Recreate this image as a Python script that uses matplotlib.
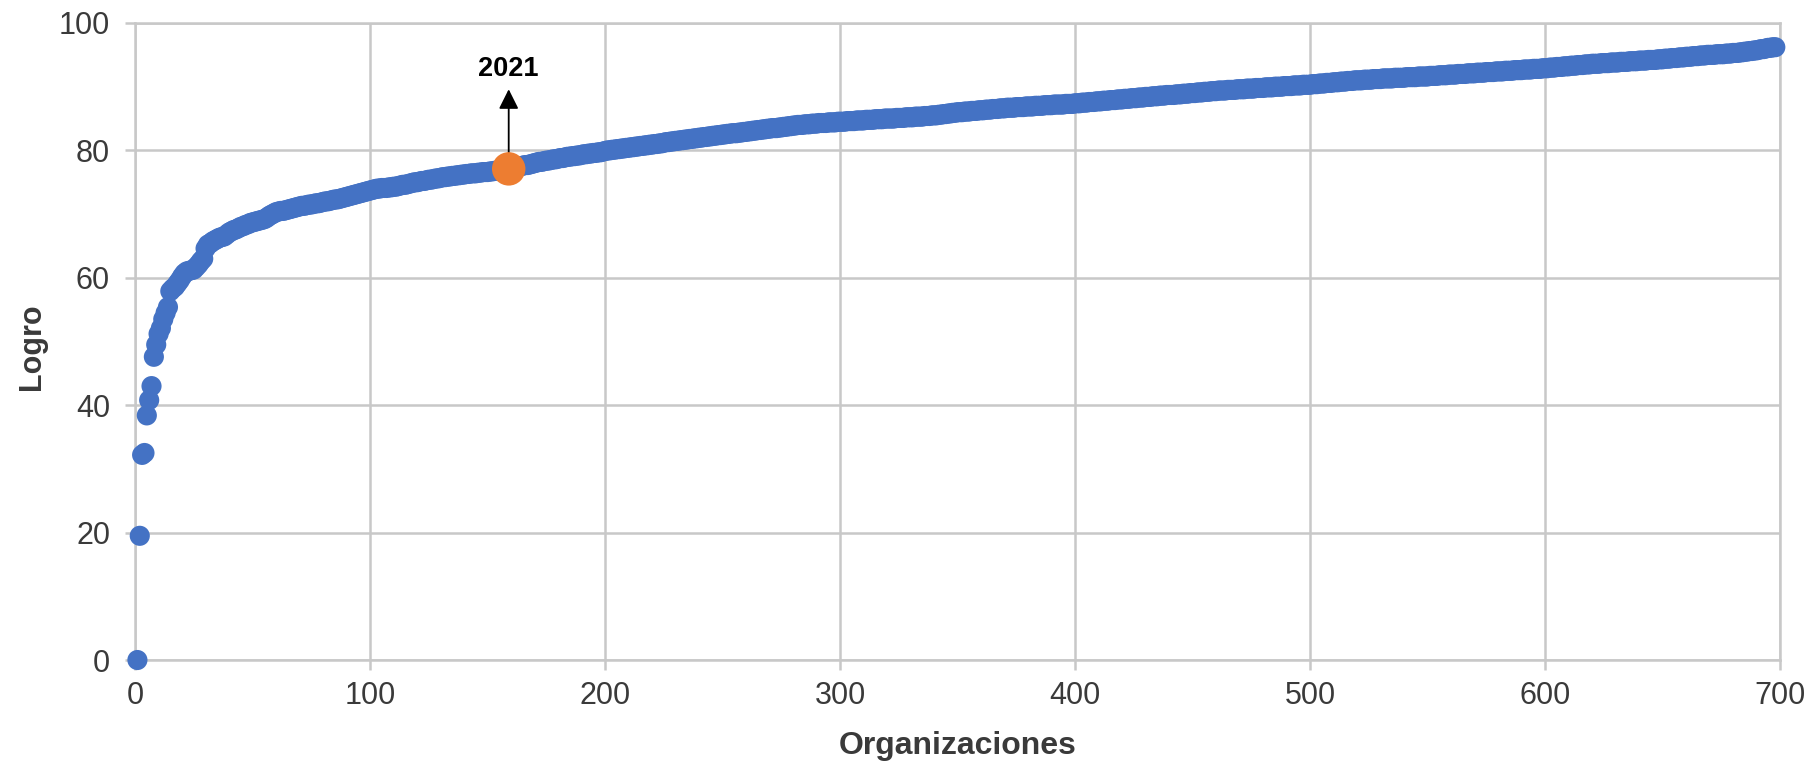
import matplotlib
matplotlib.use("Agg")
import matplotlib.pyplot as plt
import numpy as np

plt.rcParams['font.family'] = ['Liberation Sans', 'DejaVu Sans']

# logro de cada organización, ordenado de menor a mayor
logro = [
    0.0, 19.5, 32.2, 32.5, 38.4, 40.8, 43.0, 47.6, 49.5, 51.2,
    52.1, 53.5, 54.5, 55.4, 57.9, 58.3, 58.6, 59.1, 59.6, 60.2,
    60.7, 61.0, 61.1, 61.2, 61.3, 61.7, 62.1, 62.6, 63.0, 64.6,
    65.2, 65.4, 65.7, 65.9, 66.1, 66.3, 66.4, 66.5, 66.8, 67.1,
    67.3, 67.5, 67.6, 67.8, 68.0, 68.1, 68.3, 68.4, 68.6, 68.7,
    68.8, 68.9, 69.0, 69.1, 69.2, 69.4, 69.7, 69.9, 70.1, 70.3,
    70.4, 70.5, 70.5, 70.6, 70.7, 70.8, 70.9, 71.0, 71.1, 71.2,
    71.3, 71.3, 71.4, 71.5, 71.5, 71.6, 71.7, 71.7, 71.8, 71.9,
    72.0, 72.0, 72.1, 72.2, 72.3, 72.3, 72.4, 72.5, 72.6, 72.7,
    72.8, 72.9, 73.0, 73.1, 73.2, 73.3, 73.4, 73.5, 73.6, 73.7,
    73.8, 73.9, 74.0, 74.0, 74.1, 74.1, 74.1, 74.2, 74.2, 74.3,
    74.3, 74.4, 74.5, 74.6, 74.6, 74.7, 74.8, 74.9, 75.0, 75.0,
    75.1, 75.2, 75.2, 75.3, 75.4, 75.4, 75.5, 75.6, 75.6, 75.7,
    75.8, 75.8, 75.9, 75.9, 76.0, 76.0, 76.1, 76.1, 76.2, 76.2,
    76.3, 76.3, 76.4, 76.4, 76.4, 76.5, 76.5, 76.6, 76.6, 76.6,
    76.7, 76.7, 76.8, 76.8, 76.9, 76.9, 77.0, 77.0, 77.1, 77.2,
    77.3, 77.3, 77.4, 77.5, 77.6, 77.7, 77.7, 77.8, 77.9, 78.0,
    78.1, 78.2, 78.2, 78.3, 78.4, 78.4, 78.5, 78.6, 78.6, 78.7,
    78.8, 78.8, 78.9, 79.0, 79.0, 79.1, 79.1, 79.2, 79.2, 79.3,
    79.4, 79.4, 79.5, 79.5, 79.6, 79.6, 79.7, 79.7, 79.8, 79.9,
    80.0, 80.0, 80.1, 80.1, 80.2, 80.2, 80.3, 80.3, 80.4, 80.4,
    80.5, 80.5, 80.6, 80.6, 80.7, 80.7, 80.8, 80.8, 80.9, 80.9,
    81.0, 81.0, 81.1, 81.1, 81.2, 81.3, 81.3, 81.4, 81.4, 81.5,
    81.5, 81.6, 81.6, 81.7, 81.7, 81.8, 81.8, 81.9, 81.9, 82.0,
    82.0, 82.1, 82.1, 82.2, 82.2, 82.3, 82.3, 82.4, 82.4, 82.5,
    82.5, 82.6, 82.6, 82.7, 82.7, 82.7, 82.8, 82.8, 82.9, 82.9,
    83.0, 83.0, 83.1, 83.1, 83.2, 83.2, 83.3, 83.3, 83.4, 83.4,
    83.5, 83.5, 83.5, 83.6, 83.6, 83.7, 83.7, 83.8, 83.8, 83.9,
    83.9, 84.0, 84.0, 84.0, 84.1, 84.1, 84.1, 84.2, 84.2, 84.2,
    84.3, 84.3, 84.3, 84.3, 84.4, 84.4, 84.4, 84.4, 84.5, 84.5,
    84.5, 84.5, 84.6, 84.6, 84.6, 84.6, 84.7, 84.7, 84.7, 84.7,
    84.8, 84.8, 84.8, 84.8, 84.9, 84.9, 84.9, 84.9, 85.0, 85.0,
    85.0, 85.0, 85.0, 85.1, 85.1, 85.1, 85.1, 85.2, 85.2, 85.2,
    85.2, 85.3, 85.3, 85.3, 85.3, 85.4, 85.4, 85.4, 85.5, 85.5,
    85.5, 85.6, 85.6, 85.7, 85.7, 85.8, 85.8, 85.9, 85.9, 86.0,
    86.0, 86.0, 86.1, 86.1, 86.1, 86.2, 86.2, 86.2, 86.3, 86.3,
    86.3, 86.4, 86.4, 86.4, 86.5, 86.5, 86.5, 86.6, 86.6, 86.6,
    86.7, 86.7, 86.7, 86.7, 86.8, 86.8, 86.8, 86.8, 86.9, 86.9,
    86.9, 86.9, 87.0, 87.0, 87.0, 87.0, 87.1, 87.1, 87.1, 87.1,
    87.2, 87.2, 87.2, 87.2, 87.2, 87.3, 87.3, 87.3, 87.3, 87.4,
    87.4, 87.4, 87.5, 87.5, 87.5, 87.6, 87.6, 87.6, 87.7, 87.7,
    87.7, 87.8, 87.8, 87.8, 87.9, 87.9, 87.9, 88.0, 88.0, 88.0,
    88.1, 88.1, 88.1, 88.2, 88.2, 88.2, 88.3, 88.3, 88.3, 88.4,
    88.4, 88.4, 88.5, 88.5, 88.5, 88.6, 88.6, 88.6, 88.7, 88.7,
    88.7, 88.7, 88.8, 88.8, 88.8, 88.9, 88.9, 88.9, 89.0, 89.0,
    89.0, 89.1, 89.1, 89.1, 89.2, 89.2, 89.2, 89.3, 89.3, 89.3,
    89.4, 89.4, 89.4, 89.4, 89.5, 89.5, 89.5, 89.5, 89.6, 89.6,
    89.6, 89.6, 89.7, 89.7, 89.7, 89.7, 89.8, 89.8, 89.8, 89.8,
    89.9, 89.9, 89.9, 89.9, 90.0, 90.0, 90.0, 90.0, 90.1, 90.1,
    90.1, 90.1, 90.2, 90.2, 90.2, 90.2, 90.3, 90.3, 90.3, 90.3,
    90.4, 90.4, 90.4, 90.5, 90.5, 90.5, 90.6, 90.6, 90.6, 90.7,
    90.7, 90.7, 90.8, 90.8, 90.8, 90.9, 90.9, 90.9, 91.0, 91.0,
    91.0, 91.0, 91.1, 91.1, 91.1, 91.1, 91.2, 91.2, 91.2, 91.2,
    91.3, 91.3, 91.3, 91.3, 91.3, 91.4, 91.4, 91.4, 91.4, 91.4,
    91.5, 91.5, 91.5, 91.5, 91.5, 91.6, 91.6, 91.6, 91.6, 91.6,
    91.7, 91.7, 91.7, 91.7, 91.8, 91.8, 91.8, 91.8, 91.9, 91.9,
    91.9, 91.9, 92.0, 92.0, 92.0, 92.0, 92.1, 92.1, 92.1, 92.1,
    92.2, 92.2, 92.2, 92.2, 92.3, 92.3, 92.3, 92.3, 92.4, 92.4,
    92.4, 92.4, 92.5, 92.5, 92.5, 92.5, 92.6, 92.6, 92.6, 92.6,
    92.7, 92.7, 92.7, 92.7, 92.8, 92.8, 92.8, 92.8, 92.9, 92.9,
    92.9, 93.0, 93.0, 93.0, 93.1, 93.1, 93.1, 93.2, 93.2, 93.2,
    93.3, 93.3, 93.3, 93.4, 93.4, 93.4, 93.5, 93.5, 93.5, 93.6,
    93.6, 93.6, 93.6, 93.7, 93.7, 93.7, 93.7, 93.8, 93.8, 93.8,
    93.8, 93.9, 93.9, 93.9, 93.9, 94.0, 94.0, 94.0, 94.0, 94.1,
    94.1, 94.1, 94.1, 94.2, 94.2, 94.2, 94.2, 94.3, 94.3, 94.3,
    94.4, 94.4, 94.4, 94.5, 94.5, 94.5, 94.6, 94.6, 94.6, 94.7,
    94.7, 94.7, 94.8, 94.8, 94.8, 94.9, 94.9, 94.9, 95.0, 95.0,
    95.0, 95.0, 95.1, 95.1, 95.1, 95.1, 95.2, 95.2, 95.2, 95.3,
    95.3, 95.3, 95.4, 95.4, 95.5, 95.5, 95.6, 95.6, 95.7, 95.7,
    95.8, 95.9, 95.9, 96.0, 96.1, 96.1, 96.2, 96.2,
]
organizaciones = np.arange(1, len(logro) + 1)

# organización destacada
destacada = 159
etiqueta = "2021"

x_ticks = [0, 100, 200, 300, 400, 500, 600, 700]
y_ticks = [0, 20, 40, 60, 80, 100]

azul = '#4472C4'
naranja = '#ED7D31'
gris = '#c8c8c8'
texto = '#3a3a3a'

fig = plt.figure(figsize=(18.13, 7.64), dpi=100)
ax = fig.add_axes([0.0745, 0.1361, 0.9073, 0.8338])

ax.scatter(organizaciones, logro, s=210, color=azul, edgecolors='none',
           zorder=3, clip_on=False)

yd = logro[destacada - 1]
ax.annotate('', xy=(destacada, 89.6), xytext=(destacada, yd),
            arrowprops=dict(arrowstyle='-|>', color='black', lw=1.3,
                            mutation_scale=30, shrinkA=0, shrinkB=0),
            zorder=4)
ax.scatter([destacada], [yd], s=580, color=naranja, edgecolors='none',
           zorder=5, clip_on=False)
ax.text(destacada, 92.8, etiqueta, ha='center', va='center',
        fontsize=19.5, fontweight='bold', color='black')

ax.set_xlim(0, 700)
ax.set_ylim(0, 100)
ax.set_xticks(x_ticks)
ax.set_yticks(y_ticks)
ax.grid(True, color=gris, linewidth=1.8)
ax.set_axisbelow(True)
for s in ax.spines.values():
    s.set_color(gris)
    s.set_linewidth(1.8)
ax.tick_params(axis='both', colors=gris, length=7, width=1.8,
               labelsize=22, labelcolor=texto)
ax.tick_params(axis='y', pad=11)
ax.tick_params(axis='x', pad=8)

fig.text(32 / 1813, 1 - 347 / 764, 'Logro', rotation=90, ha='center',
         va='center', fontsize=22, fontweight='bold', color=texto)
fig.text((135 + 1780) / 2 / 1813, 1 - 746 / 764, 'Organizaciones',
         ha='center', va='center', fontsize=23, fontweight='bold', color=texto)

fig.savefig('out.png', dpi=100)
